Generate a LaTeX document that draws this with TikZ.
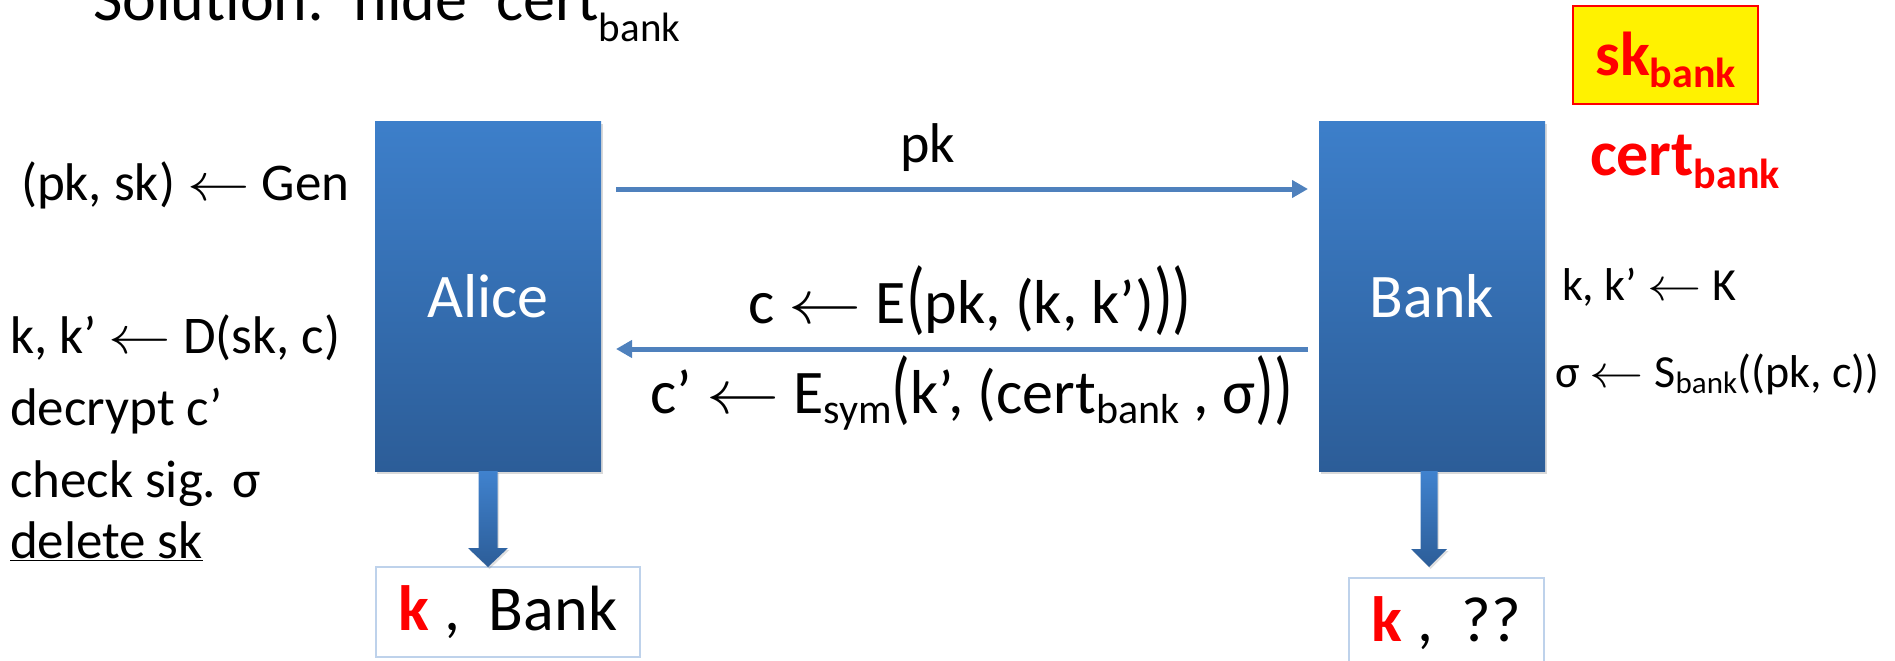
\RequirePackage{fix-cm}
\documentclass[tikz,border=0pt]{standalone}
\usepackage{fontspec}
\setmainfont{Carlito}
\usepackage{graphicx}
\usetikzlibrary{arrows.meta,shadows,calc}

\definecolor{boxtop}{RGB}{61,127,202}
\definecolor{boxbot}{RGB}{44,93,152}
\definecolor{arrtop}{RGB}{64,130,206}
\definecolor{msgblue}{RGB}{79,129,189}
\definecolor{resedge}{RGB}{190,210,235}

\newcommand\fs[1]{\fontsize{#1}{#1}\selectfont}
\newcommand\lsub[3]{\raisebox{#1}{\fs{#2}#3}}
\newcommand\bigpar[1]{\raisebox{-0.02em}{\scalebox{1}[1.3]{#1}}}
\newcommand\arr{\scalebox{1.18}[1]{$\leftarrow$}}

\begin{document}
\begin{tikzpicture}[x=1pt,y=-1pt,
  every node/.style={inner sep=0pt, outer sep=0pt},
  party/.style={minimum width=226pt, minimum height=350pt,
    top color=boxtop, bottom color=boxbot, text=white, font=\fs{62},
    drop shadow={shadow xshift=2pt, shadow yshift=-3pt, opacity=0.3}},
  msg/.style={draw=msgblue, line width=5pt, -{Triangle[length=16pt,width=17pt]}},
  lbl/.style={font=\fs{62}, anchor=base},
  note/.style={font=\fs{53}, anchor=base west},
  rnote/.style={font=\fs{46}, anchor=base west},
  resbox/.style={draw=resedge, line width=2.5pt, fill=white, font=\fs{64}},
  blockarrow/.style={top color=arrtop, bottom color=boxbot,
    drop shadow={shadow xshift=1.5pt, shadow yshift=-2pt, opacity=0.25}},
  keyred/.style={text=red, font=\fs{64}\bfseries}
]
\useasboundingbox (0,0) rectangle (1895,661);

% title (cut at top)
\node[anchor=base west, font=\fs{64}] (title) at (93,21) {Solution:\ \ hide\ \ cert\lsub{-21pt}{41}{bank}};

% secret key box
\node[draw=red, fill=yellow, line width=2pt, minimum width=185pt, minimum height=98pt,
      text height=52pt, text depth=12pt, text=red, font=\fs{62}\bfseries] (skbox) at (1665.5,55)
      {sk\lsub{-12pt}{42}{bank}};
\node[keyred, anchor=base west] (cert) at (1590,175) {cert\lsub{-13pt}{42}{bank}};

% parties
\node[party] (Alice) at (488,296) {Alice};
\node[party] (Bank) at (1432,296) {Bank};

% messages
\draw[msg] ($(Alice.north east)+(15,68)$) -- ($(Bank.north west)+(-11,68)$);
\draw[msg] ($(Bank.north west)+(-11,228)$) -- ($(Alice.north east)+(15,228)$);
\node[lbl, font=\fs{56}] (pklbl) at (928,162) {pk};
\node[lbl] (m1) at (970,323) {c \arr\ E\bigpar{(}pk, (k, k’)\bigpar{)}\bigpar{)}};
\node[lbl] (m2) at (972,413) {c’ \arr\ E\lsub{-10pt}{42}{sym}\bigpar{(}k’, (cert\lsub{-10pt}{42}{bank} , σ\bigpar{)}\bigpar{)}};

% Alice side notes
\node[note] (a0) at (21,200) {(pk, sk) \arr\ Gen};
\node[note] (a1) at (10,353) {k, k’ \arr\ D(sk, c)};
\node[note] (a2) at (10,425) {decrypt c’};
\node[note] (a3) at (10,497) {check sig. σ};
\node[note] (a4) at (10,558) {\underline{delete sk}};

% Bank side notes
\node[rnote] (b1) at (1562,300) {k, k’ \arr\ K};
\node[rnote] (b2) at (1555,387) {σ \arr\ S\lsub{-6pt}{31}{bank}((pk, c))};

% results
\node[resbox, minimum width=264pt, minimum height=90pt] (ares) at (508,612)
  {{\bfseries\color{red}k} ,\ \ Bank};
\node[resbox, minimum width=195pt, minimum height=90pt] (bres) at (1446.5,623)
  {{\bfseries\color{red}k} ,\ \ ??};

% output arrows
\shade[blockarrow] ($(Alice.south)+(-9.5,0)$) -- ($(Alice.south |- ares.north)+(-9.5,-19)$)
  -- ($(Alice.south |- ares.north)+(-20,-19)$) -- (Alice.south |- ares.north)
  -- ($(Alice.south |- ares.north)+(20,-19)$) -- ($(Alice.south |- ares.north)+(9.5,-19)$)
  -- ($(Alice.south)+(9.5,0)$) -- cycle;
\coordinate (btip) at ($(Bank.south |- bres.north)+(-3,-11)$);
\shade[blockarrow] ($(Bank.south)+(-11.5,0)$) -- ($(btip)+(-8.5,-18)$)
  -- ($(btip)+(-18,-18)$) -- (btip) -- ($(btip)+(18,-18)$) -- ($(btip)+(8.5,-18)$)
  -- ($(Bank.south)+(5.5,0)$) -- cycle;
\end{tikzpicture}
\end{document}
